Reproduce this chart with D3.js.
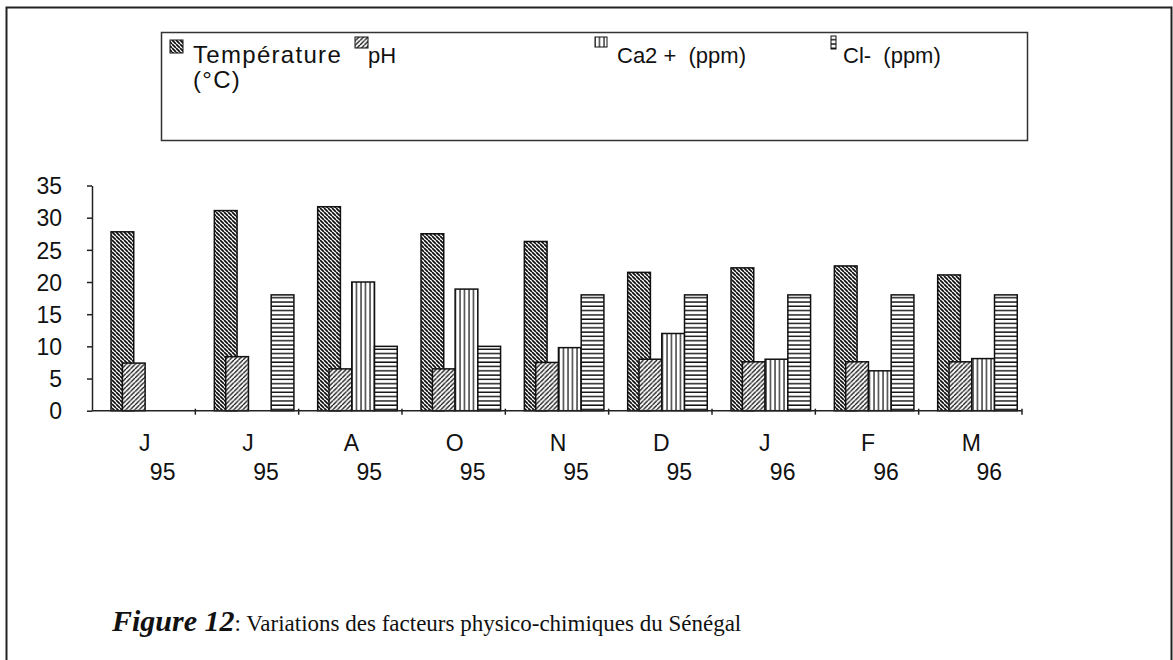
<!DOCTYPE html>
<html>
<head>
<meta charset="utf-8">
<script src="https://cdn.jsdelivr.net/npm/d3@7"></script>
<style>
  body { margin: 0; background: #fff; }
  svg { display: block; }
</style>
</head>
<body>
<div id='chart'></div>
<script>

// Data
const months = ['J', 'J', 'A', 'O', 'N', 'D', 'J', 'F', 'M'];
const years = ['95', '95', '95', '95', '95', '95', '96', '96', '96'];
const temperature = [27.8, 31.1, 31.7, 27.5, 26.3, 21.5, 22.2, 22.5, 21.1];
const ph = [7.4, 8.4, 6.5, 6.5, 7.5, 8.0, 7.6, 7.6, 7.6];
const calcium = [0, 0, 20, 18.9, 9.8, 12, 8, 6.2, 8.1];
const chlore = [0, 18, 10, 10, 18, 18, 18, 18, 18];
const seriesNames = ['Température', 'pH', 'Ca2 +  (ppm)', 'Cl-  (ppm)'];
const yTicks = [0, 5, 10, 15, 20, 25, 30, 35];

// Page Dimensions
const W = 1173, H = 660;
const plot = {left: 92, right: 1022, top: 185.5, bottom: 410.7};
const sansFont = "'Liberation Sans', Arial, sans-serif";
const serifFont = "'Liberation Serif', 'Times New Roman', serif";

const svg = d3.select('div#chart').append('svg')
  .attr('width', W)
  .attr('height', H);

// Hatch patterns
const defs = svg.append('defs');
const hatch = (id, size, draw) => {
  let p = defs.append('pattern')
    .attr('id', id)
    .attr('patternUnits', 'userSpaceOnUse')
    .attr('width', size)
    .attr('height', size);
  p.append('rect').attr('width', size).attr('height', size).attr('fill', '#fff');
  draw(p, size);
};
hatch('p-temp', 4, (p, s) => {
  p.append('path').attr('d', `M0,0 L${s},${s} M${-s},0 L0,${s} M${s},0 L${2*s},${s}`)
    .attr('stroke', '#111').attr('stroke-width', 1.7);
});
hatch('p-ph', 4.5, (p, s) => {
  p.append('path').attr('d', `M0,${s} L${s},0 M${-s},${s} L0,0 M${s},${s} L${2*s},0`)
    .attr('stroke', '#111').attr('stroke-width', 1.3);
});
hatch('p-ca', 4.5, (p, s) => {
  p.append('line').attr('x1', 1).attr('x2', 1).attr('y1', 0).attr('y2', s)
    .attr('stroke', '#111').attr('stroke-width', 1.2);
});
hatch('p-cl', 4.3, (p, s) => {
  p.append('line').attr('x1', 0).attr('x2', s).attr('y1', 1).attr('y2', 1)
    .attr('stroke', '#111').attr('stroke-width', 1.4);
});
const fills = ['url(#p-temp)', 'url(#p-ph)', 'url(#p-ca)', 'url(#p-cl)'];

// Outer frame
svg.append('path')
  .attr('d', `M6.5,${H} L6.5,7.5 L1171.5,7.5 L1171.5,${H}`)
  .attr('fill', 'none')
  .attr('stroke', '#222')
  .attr('stroke-width', 2);

// Legend box
svg.append('rect')
  .attr('x', 161.5).attr('y', 32.5)
  .attr('width', 866).attr('height', 108)
  .attr('fill', 'none')
  .attr('stroke', '#333')
  .attr('stroke-width', 1.5);

const legendItems = [
  {sw: [170, 40, 13, 13], tx: 193, ls: 1.3, lines: [seriesNames[0], '(°C)']},
  {sw: [355, 37, 13, 11], tx: 368, ls: 0, lines: [seriesNames[1]]},
  {sw: [595, 37, 12, 10], tx: 617, ls: 0, lines: [seriesNames[2]]},
  {sw: [831, 36, 5, 13], tx: 843, ls: 0, lines: [seriesNames[3]]}
];
const legend = svg.append('g').attr('class', 'legend');
legendItems.forEach((it, i) => {
  legend.append('rect')
    .attr('x', it.sw[0]).attr('y', it.sw[1])
    .attr('width', it.sw[2]).attr('height', it.sw[3])
    .attr('fill', fills[i])
    .attr('stroke', '#111')
    .attr('stroke-width', 1);
  it.lines.forEach((t, k) => {
    legend.append('text')
      .attr('x', it.tx)
      .attr('y', 63 + k * 25)
      .attr('font-family', sansFont)
      .attr('font-size', i === 0 ? 24 : 22)
      .attr('letter-spacing', it.ls)
      .attr('fill', '#111')
      .style('white-space', 'pre')
      .text(t);
  });
});

// Scales
const x = d3.scaleBand()
  .domain(d3.range(months.length))
  .range([plot.left, plot.right])
  .padding(0);
const y = d3.scaleLinear()
  .domain([0, 35])
  .range([plot.bottom, plot.top]);

const barW = x.bandwidth() * 0.22;
const groupStart = x.bandwidth() * 0.184;
const barOffsets = [0, 0.5, 1.5, 2.5];
const series = [temperature, ph, calcium, chlore];

// Bars
const bars = svg.append('g').attr('class', 'bars');
series.forEach((vals, s) => {
  bars.selectAll(null)
    .data(vals.map((v, i) => ({i, v})).filter(d => d.v > 0))
    .enter()
    .append('rect')
    .attr('x', d => x(d.i) + groupStart + barOffsets[s] * barW)
    .attr('y', d => y(d.v))
    .attr('width', barW)
    .attr('height', d => y(0) - y(d.v))
    .attr('fill', fills[s])
    .attr('stroke', '#111')
    .attr('stroke-width', 1.5);
});

// Y axis
const yAxis = svg.append('g')
  .attr('transform', `translate(${plot.left},0)`)
  .call(d3.axisLeft(y).tickValues(yTicks).tickSize(5).tickSizeOuter(0));
yAxis.select('.domain').attr('stroke', '#222').attr('stroke-width', 1.5);
yAxis.selectAll('.tick line').attr('stroke', '#222').attr('stroke-width', 1.5);
yAxis.selectAll('.tick text')
  .attr('x', -30)
  .attr('dy', '0.36em')
  .attr('text-anchor', 'end')
  .attr('font-family', sansFont)
  .attr('font-size', 23)
  .attr('fill', '#111');

// X axis
const xAxis = svg.append('g');
xAxis.append('line')
  .attr('x1', plot.left).attr('x2', plot.right)
  .attr('y1', y(0)).attr('y2', y(0))
  .attr('stroke', '#222').attr('stroke-width', 1.5);
xAxis.selectAll('line.tick')
  .data(d3.range(1, months.length + 1))
  .enter()
  .append('line')
  .attr('class', 'tick')
  .attr('x1', i => x.step() * i + plot.left)
  .attr('x2', i => x.step() * i + plot.left)
  .attr('y1', y(0) - 2).attr('y2', y(0) + 4)
  .attr('stroke', '#222').attr('stroke-width', 1.5);
xAxis.selectAll('text.month')
  .data(months)
  .enter()
  .append('text')
  .attr('class', 'month')
  .attr('x', (d, i) => x(i) + x.bandwidth() / 2 + 1)
  .attr('y', 451)
  .attr('text-anchor', 'middle')
  .attr('font-family', sansFont)
  .attr('font-size', 23)
  .attr('fill', '#111')
  .text(d => d);
xAxis.selectAll('text.year')
  .data(years)
  .enter()
  .append('text')
  .attr('class', 'year')
  .attr('x', (d, i) => x(i) + x.bandwidth() / 2 + 19)
  .attr('y', 480)
  .attr('text-anchor', 'middle')
  .attr('font-family', sansFont)
  .attr('font-size', 23)
  .attr('fill', '#111')
  .text(d => d);

// Caption
const cap = svg.append('text')
  .attr('x', 112)
  .attr('y', 631)
  .attr('font-family', serifFont)
  .attr('fill', '#111');
cap.append('tspan')
  .attr('font-size', 30)
  .attr('font-weight', 'bold')
  .attr('font-style', 'italic')
  .text('Figure 12');
cap.append('tspan')
  .attr('font-size', 23)
  .text(': Variations des facteurs physico-chimiques du Sénégal');

</script>
</body>
</html>
